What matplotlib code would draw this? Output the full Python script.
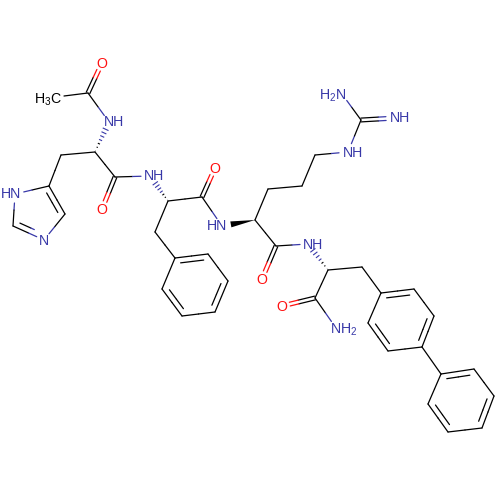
import numpy as np
import matplotlib
matplotlib.use('Agg')
import matplotlib.pyplot as plt

plt.rcParams['font.family'] = ['Liberation Sans', 'DejaVu Sans']
plt.rcParams['mathtext.default'] = 'regular'

BLUE = '#3838a8'
RED = '#ff1010'

# atom positions
atoms = {
    'me': (64, 96), 'c_ac': (88, 93), 'o_ac': (102, 63), 'n_ac': (109, 122),
    'ca1': (95, 152), 'cb1': (61, 155), 'c4': (49, 186), 'c5': (65, 214),
    'n3': (44, 240), 'c2': (13, 226), 'n1': (15, 194),
    'c1': (115, 177), 'o1': (102, 209), 'n2': (150, 176),
    'ca2': (168, 201), 'c_2': (202, 197), 'o2': (215, 168), 'n_3': (222, 226),
    'cb2': (155, 232), 'p1': (175, 258), 'p2': (208, 254), 'p3': (228, 281),
    'p4': (215, 312), 'p5': (182, 316), 'p6': (162, 289),
    'ca3': (255, 220), 'cb3': (268, 189), 'cg3': (302, 186), 'cd3': (315, 155),
    'ne': (348, 152), 'cz': (361, 120), 'nh2': (342, 94), 'nh': (396, 118),
    'c3': (276, 246), 'o3': (262, 279), 'n4': (308, 244),
    'ca4': (328, 270), 'cb4': (362, 267), 'c4o': (315, 298),
    'o4': (282, 306), 'n5': (336, 328),
    'a1': (381, 293), 'a2': (414, 289), 'a3': (434, 316),
    'a4': (422, 347), 'a5': (388, 351), 'a6': (368, 323),
    'b1': (441, 374), 'b2': (474, 369), 'b3': (494, 396),
    'b4': (482, 428), 'b5': (448, 432), 'b6': (428, 404),
}

# how far a bond stops short of each labelled atom
clearance = {
    'me': 0, 'o_ac': 8, 'n_ac': 8, 'n3': 8, 'n1': 9, 'o1': 8, 'n2': 9, 'o2': 8,
    'n_3': 9, 'ne': 9, 'nh2': 8, 'nh': 10, 'o3': 8, 'n4': 8, 'o4': 8, 'n5': 8,
}

single_bonds = [
    ('me', 'c_ac'), ('c_ac', 'n_ac'), ('ca1', 'cb1'), ('cb1', 'c4'),
    ('c4', 'n1'), ('n1', 'c2'), ('c5', 'n3'), ('ca1', 'c1'), ('c1', 'n2'),
    ('ca2', 'c_2'), ('c_2', 'n_3'), ('ca2', 'cb2'), ('cb2', 'p1'),
    ('ca3', 'cb3'), ('cb3', 'cg3'), ('cg3', 'cd3'), ('cd3', 'ne'),
    ('ne', 'cz'), ('cz', 'nh2'), ('ca3', 'c3'), ('c3', 'n4'),
    ('ca4', 'cb4'), ('ca4', 'c4o'), ('c4o', 'n5'), ('cb4', 'a1'), ('a4', 'b1'),
    ('p2', 'p3'), ('p4', 'p5'), ('p6', 'p1'),
    ('a2', 'a3'), ('a4', 'a5'), ('a6', 'a1'),
    ('b2', 'b3'), ('b4', 'b5'), ('b6', 'b1'),
]
# double bonds drawn either side of the axis
centred_doubles = [('c_ac', 'o_ac'), ('c1', 'o1'), ('c_2', 'o2'), ('c3', 'o3'),
                   ('c4o', 'o4'), ('cz', 'nh')]
# double bonds in rings: (a, b, ring member on the inner side)
ring_doubles = [
    ('c4', 'c5', 'n3'), ('c2', 'n3', 'c5'),
    ('p1', 'p2', 'p4'), ('p3', 'p4', 'p6'), ('p5', 'p6', 'p2'),
    ('a1', 'a2', 'a4'), ('a3', 'a4', 'a6'), ('a5', 'a6', 'a2'),
    ('b1', 'b2', 'b4'), ('b3', 'b4', 'b6'), ('b5', 'b6', 'b2'),
]
wedge_bonds = [('ca3', 'n_3')]
hash_bonds = [('ca1', 'n_ac'), ('ca2', 'n2'), ('ca4', 'n4')]

label_text = ['O', 'H$_3$C', 'NH', 'HN', 'N', 'O', 'NH', 'O', 'HN',
              'NH', 'H$_2$N', 'NH', 'O', 'NH', 'O', 'NH$_2$']
label_x = [102, 48, 114, 11, 44, 102, 154, 215, 217,
           353, 333, 400, 262, 313, 282, 344]
label_y = [64, 100, 122, 194, 241, 210, 176, 169, 226,
           153, 96, 118, 280, 245, 307, 330]
label_col = [RED, 'black', BLUE, BLUE, BLUE, RED, BLUE, RED, BLUE,
             BLUE, BLUE, BLUE, RED, BLUE, RED, BLUE]

LW = 0.9


def colour(name):
    if name.startswith('o'):
        return RED
    if name in ('n_ac', 'n1', 'n3', 'n2', 'n_3', 'ne', 'nh2', 'nh', 'n4', 'n5'):
        return BLUE
    return 'black'


def draw_split(ax, p, q, a, b):
    # half of the bond in each atom's colour, stopped short of any label
    p, q = np.array(p, float), np.array(q, float)
    mid = (p + q) / 2
    d = (q - p) / np.linalg.norm(q - p)
    start = p + d * clearance.get(a, 0)
    end = q - d * clearance.get(b, 0)
    ax.plot([start[0], mid[0]], [start[1], mid[1]], color=colour(a), lw=LW, solid_capstyle='round')
    ax.plot([mid[0], end[0]], [mid[1], end[1]], color=colour(b), lw=LW, solid_capstyle='round')


def normal(a, b):
    d = np.array(atoms[b], float) - np.array(atoms[a], float)
    d /= np.linalg.norm(d)
    return np.array([-d[1], d[0]]), d


fig = plt.figure(figsize=(5, 5), dpi=100)
ax = fig.add_axes([0, 0, 1, 1])
ax.set_xlim(0, 500)
ax.set_ylim(500, 0)
ax.axis('off')

for a, b in single_bonds:
    draw_split(ax, atoms[a], atoms[b], a, b)

for a, b in centred_doubles:
    n, d = normal(a, b)
    for s in (-1.9, 1.9):
        draw_split(ax, np.array(atoms[a]) + n * s, np.array(atoms[b]) + n * s, a, b)

for a, b, inner in ring_doubles:
    draw_split(ax, atoms[a], atoms[b], a, b)
    n, d = normal(a, b)
    side = np.array(atoms[inner], float) - np.array(atoms[a], float)
    if np.dot(side, n) < 0:
        n = -n
    length = np.linalg.norm(np.array(atoms[b], float) - np.array(atoms[a], float))
    cut = length * 0.15
    draw_split(ax, np.array(atoms[a]) + n * 5.5 + d * cut, np.array(atoms[b]) + n * 5.5 - d * cut, a, b)

for a, b in wedge_bonds:
    n, d = normal(a, b)
    tip = np.array(atoms[a], float)
    end = np.array(atoms[b], float) - d * clearance[b]
    ax.fill([tip[0], end[0] + n[0] * 3, end[0] - n[0] * 3],
            [tip[1], end[1] + n[1] * 3, end[1] - n[1] * 3], color='black', lw=0)

for a, b in hash_bonds:
    n, d = normal(a, b)
    tip = np.array(atoms[a], float)
    end = np.array(atoms[b], float) - d * clearance[b]
    for t in np.linspace(0.05, 1, 7):
        c = tip + (end - tip) * t
        w = 3.2 * t
        col = 'black' if t < 0.5 else colour(b)
        ax.plot([c[0] - n[0] * w, c[0] + n[0] * w], [c[1] - n[1] * w, c[1] + n[1] * w],
                color=col, lw=0.8, solid_capstyle='butt')

for txt, x, y, col in zip(label_text, label_x, label_y, label_col):
    ax.text(x, y, txt, color=col, fontsize=10.2, ha='center', va='center')

fig.savefig('out.png', dpi=100)
